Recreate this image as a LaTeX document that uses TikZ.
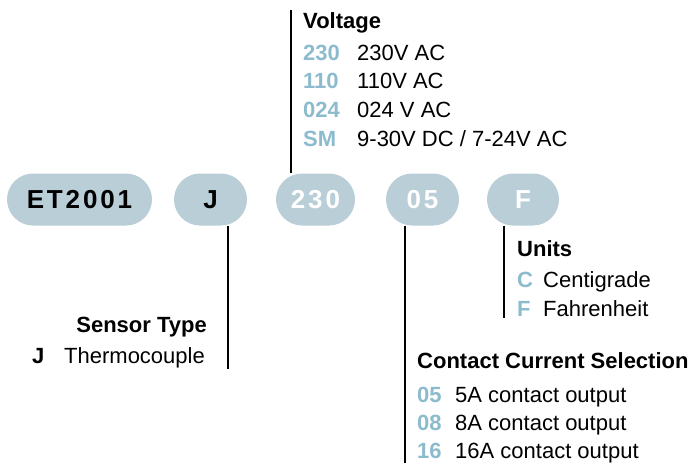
\documentclass[tikz,border=0pt]{standalone}
\usepackage{fontspec}
\setmainfont{Liberation Sans}
\usetikzlibrary{positioning}
\definecolor{pillblue}{HTML}{B9CED7}
\definecolor{keyblue}{HTML}{8DBBCE}

\begin{document}
\begin{tikzpicture}[x=1pt,y=-1pt]
		\tikzstyle{pill} = [rectangle, rounded corners=26pt, minimum height=52pt, 
		text centered, fill=pillblue, inner sep=0pt, font=\fontsize{26}{30}\selectfont\bfseries\addfontfeature{LetterSpace=11}]
		\tikzstyle{txt} = [anchor=base west, inner sep=0pt, font=\fontsize{22}{26}\selectfont]
		\tikzstyle{head} = [txt, font=\fontsize{22}{26}\selectfont\bfseries]
		\tikzstyle{key} = [head, text=keyblue]
		\tikzstyle{leader} = [line width=2.6pt]
		\useasboundingbox (0,0) rectangle (695,463);
		% code pills
		\node (model) [pill, minimum width=145pt] at (79.5,199.5) {ET2001};
		\node (sensor) [pill, minimum width=73pt] at (210.5,199.5) {J};
		\node (volt) [pill, minimum width=79pt, text=white] at (315.5,199.5) {230};
		\node (current) [pill, minimum width=73pt, text=white] at (422.5,199.5) {05};
		\node (units) [pill, minimum width=72pt, text=white] at (523,199.5) {F};
		% voltage
		\node (voltHead) [head] at (303,28) {Voltage};
		\node (v1) [key] at (303,60) {230};
		\node (v1t) [txt] at (357,60) {230V AC};
		\node (v2) [key] at (303,88.5) {110};
		\node (v2t) [txt] at (357,88.5) {110V AC};
		\node (v3) [key] at (303,117) {024};
		\node (v3t) [txt] at (357,117) {024 V AC};
		\node (v4) [key] at (303,146) {SM};
		\node (v4t) [txt] at (357,146) {9-30V DC / 7-24V AC};
		% sensor type
		\node (sensorHead) [head, anchor=base east] at (207,332) {Sensor Type};
		\node (s1) [head] at (32,363) {J};
		\node (s1t) [txt] at (64,363) {Thermocouple};
		% units
		\node (unitsHead) [head] at (517,256) {Units};
		\node (u1) [key] at (517,287) {C};
		\node (u1t) [txt] at (543,287) {Centigrade};
		\node (u2) [key] at (517,316) {F};
		\node (u2t) [txt] at (543,316) {Fahrenheit};
		% contact current
		\node (currentHead) [head] at (417,368) {Contact Current Selection};
		\node (c1) [key] at (417,402) {05};
		\node (c1t) [txt] at (455,402) {5A contact output};
		\node (c2) [key] at (417,430) {08};
		\node (c2t) [txt] at (455,430) {8A contact output};
		\node (c3) [key] at (417,458) {16};
		\node (c3t) [txt] at (455,458) {16A contact output};
		% leader lines
		\coordinate (voltEnd) at (291,10);
		\coordinate (sensorEnd) at (228,369);
		\coordinate (currentEnd) at (405,463);
		\coordinate (unitsEnd) at (504,318);
		\draw [leader] (volt.north -| voltEnd) -- (voltEnd);
		\draw [leader] (sensor.south -| sensorEnd) -- (sensorEnd);
		\draw [leader] (current.south -| currentEnd) -- (currentEnd);
		\draw [leader] (units.south -| unitsEnd) -- (unitsEnd);
\end{tikzpicture}
\end{document}
